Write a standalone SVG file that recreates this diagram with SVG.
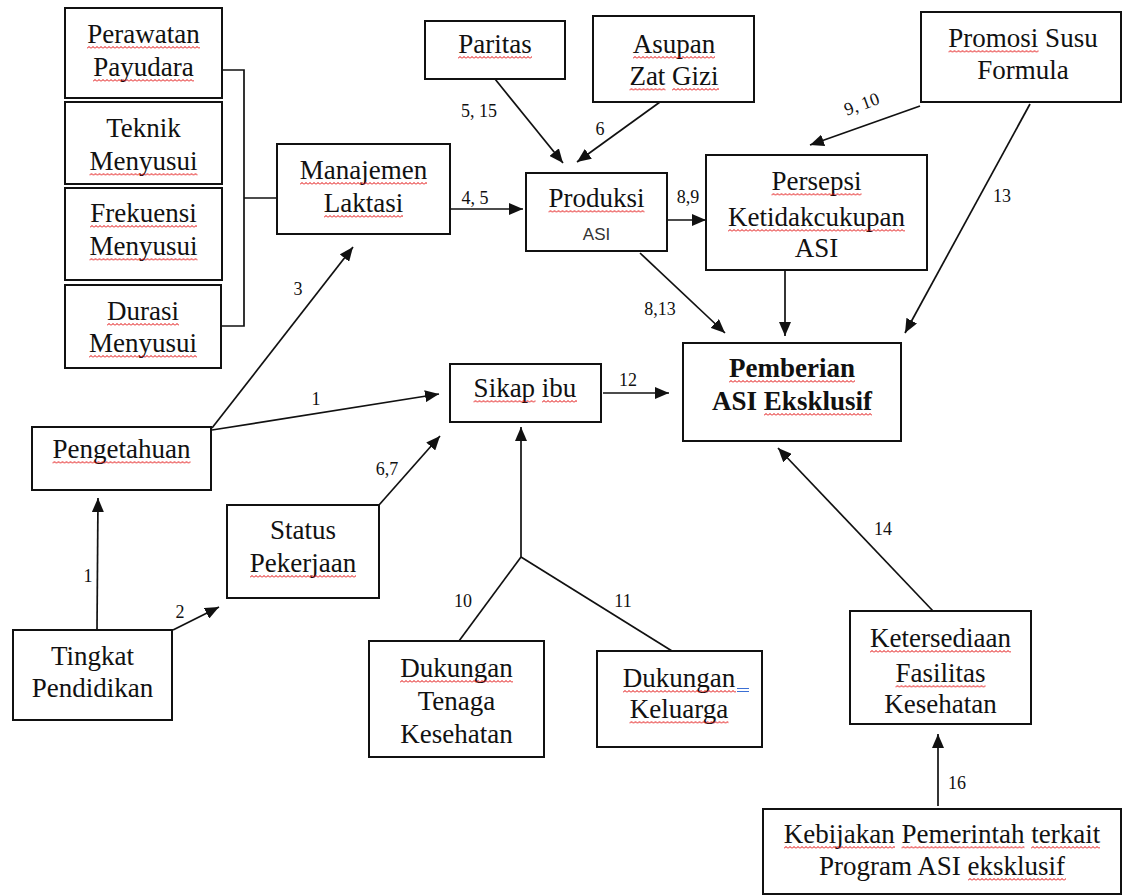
<svg xmlns="http://www.w3.org/2000/svg" width="1122" height="896" viewBox="0 0 1122 896">
<defs>
<style>
.b{fill:#fff;stroke:#111;stroke-width:2}
.t{font-family:"Liberation Serif","Times New Roman",serif;font-size:27px;fill:#111;text-anchor:middle}
.bold{font-weight:bold}
.a{font-family:"Liberation Sans",Arial,sans-serif;font-size:17px;fill:#333;text-anchor:middle}
.n{font-family:"Liberation Serif","Times New Roman",serif;font-size:18px;fill:#111;text-anchor:middle}
.l{fill:none;stroke:#111;stroke-width:1.7}
.ar{marker-end:url(#ah)}
.w{fill:url(#wv)}
</style>
<pattern id="wv" width="4" height="3" patternUnits="userSpaceOnUse"><path d="M0,2.5 L2,0.5 L4,2.5" fill="none" stroke="#e00000" stroke-width="1"/></pattern>
<marker id="ah" markerUnits="userSpaceOnUse" markerWidth="16" markerHeight="12" refX="14" refY="6" orient="auto"><path d="M0,0 L14,6 L0,12 z" fill="#111"/></marker>
</defs>
<rect x="0" y="0" width="1122" height="896" fill="#fff"/>

<g id="connectors">
<polyline class="l" points="222,70 244,70 244,326 221,326"/>
<line class="l" x1="244" y1="198" x2="277" y2="198"/>
<line class="l ar" x1="450" y1="209" x2="523" y2="209"/>
<line class="l ar" x1="495" y1="79" x2="563" y2="163"/>
<line class="l ar" x1="660" y1="102" x2="577" y2="162"/>
<line class="l ar" x1="667" y1="220" x2="706" y2="220"/>
<line class="l ar" x1="640" y1="253" x2="725" y2="333"/>
<line class="l ar" x1="920" y1="106" x2="810" y2="145"/>
<line class="l ar" x1="1030" y1="104" x2="905" y2="333"/>
<line class="l ar" x1="785" y1="270" x2="785" y2="336"/>
<line class="l ar" x1="212" y1="428" x2="353" y2="247"/>
<line class="l ar" x1="212" y1="430" x2="439" y2="394"/>
<line class="l ar" x1="603" y1="393" x2="669" y2="393"/>
<line class="l ar" x1="379" y1="505" x2="440" y2="436"/>
<line class="l ar" x1="97" y1="630" x2="98" y2="498"/>
<line class="l ar" x1="173" y1="630" x2="219" y2="607"/>
<line class="l ar" x1="521" y1="557" x2="521" y2="427"/>
<line class="l" x1="521" y1="557" x2="459" y2="641"/>
<line class="l" x1="521" y1="557" x2="672" y2="651"/>
<line class="l ar" x1="933" y1="611" x2="778" y2="448"/>
<line class="l ar" x1="938" y1="806" x2="938" y2="734"/>
<text class="n" x="479" y="117">5, 15</text>
<text class="n" x="600" y="135">6</text>
<text class="n" x="475" y="204">4, 5</text>
<text class="n" x="688" y="203">8,9</text>
<text class="n" x="660" y="315">8,13</text>
<text class="n" x="862" y="110" transform="rotate(-20 862 105)">9, 10</text>
<text class="n" x="1002" y="202">13</text>
<text class="n" x="298" y="295">3</text>
<text class="n" x="316" y="405">1</text>
<text class="n" x="387" y="475">6,7</text>
<text class="n" x="628" y="386">12</text>
<text class="n" x="88" y="582">1</text>
<text class="n" x="180" y="618">2</text>
<text class="n" x="463" y="607">10</text>
<text class="n" x="623" y="607">11</text>
<text class="n" x="883" y="535">14</text>
<text class="n" x="957" y="789">16</text>
</g>

<g id="perawatan"><rect class="b" x="65" y="8" width="157" height="90"/>
<text class="t" x="143.5" y="43">Perawatan</text>
<text class="t" x="143.5" y="76">Payudara</text>
<rect class="w" transform="translate(87,46)" width="113" height="3"/>
<rect class="w" transform="translate(93,79)" width="101" height="3"/></g>

<g id="teknik"><rect class="b" x="65" y="102" width="157" height="82"/>
<text class="t" x="143.5" y="137">Teknik</text>
<text class="t" x="143.5" y="170">Menyusui</text>
<rect class="w" transform="translate(89.5,173)" width="108" height="3"/></g>

<g id="frekuensi"><rect class="b" x="65" y="188" width="157" height="92"/>
<text class="t" x="143.5" y="222">Frekuensi</text>
<text class="t" x="143.5" y="255">Menyusui</text>
<rect class="w" transform="translate(90,225)" width="107" height="3"/>
<rect class="w" transform="translate(89.5,258)" width="108" height="3"/></g>

<g id="durasi"><rect class="b" x="65" y="285" width="156" height="83"/>
<text class="t" x="143" y="320">Durasi</text>
<text class="t" x="143" y="352">Menyusui</text>
<rect class="w" transform="translate(107,323)" width="72" height="3"/>
<rect class="w" transform="translate(89,355)" width="108" height="3"/></g>

<g id="manajemen"><rect class="b" x="277" y="144" width="173" height="90"/>
<text class="t" x="363.5" y="179">Manajemen</text>
<text class="t" x="363.5" y="212">Laktasi</text>
<rect class="w" transform="translate(300,182)" width="127" height="3"/>
<rect class="w" transform="translate(324,215)" width="79" height="3"/></g>

<g id="paritas"><rect class="b" x="425" y="21" width="140" height="58"/>
<text class="t" x="495" y="53">Paritas</text>
<rect class="w" transform="translate(458,56)" width="74" height="3"/></g>

<g id="asupan"><rect class="b" x="593" y="16" width="161" height="86"/>
<text class="t" x="674" y="53">Asupan</text>
<text class="t" x="674" y="85">Zat Gizi</text>
<rect class="w" transform="translate(633,56)" width="82" height="3"/>
<rect class="w" transform="translate(629.5,88)" width="36" height="3"/>
<rect class="w" transform="translate(672,88)" width="47" height="3"/></g>

<g id="produksi"><rect class="b" x="526" y="173" width="141" height="78"/>
<text class="t" x="596.5" y="207">Produksi</text>
<text class="a" x="596.5" y="240">ASI</text>
<rect class="w" transform="translate(548.5,210)" width="96" height="3"/></g>

<g id="persepsi"><rect class="b" x="706" y="155" width="221" height="115"/>
<text class="t" x="816.5" y="190">Persepsi</text>
<text class="t" x="816.5" y="226">Ketidakcukupan</text>
<text class="t" x="816.5" y="257">ASI</text>
<rect class="w" transform="translate(771.5,193)" width="90" height="3"/>
<rect class="w" transform="translate(728,229)" width="177" height="3"/></g>

<g id="promosi"><rect class="b" x="921" y="12" width="200" height="90"/>
<text class="t" x="1023" y="47">Promosi Susu</text>
<text class="t" x="1023" y="79">Formula</text>
<rect class="w" transform="translate(948.5,50)" width="90" height="3"/></g>

<g id="pemberian"><rect class="b" x="683" y="343" width="218" height="98"/>
<text class="t bold" x="792" y="377">Pemberian</text>
<text class="t bold" x="792" y="410">ASI Eksklusif</text>
<rect class="w" transform="translate(729,380)" width="126" height="3"/>
<rect class="w" transform="translate(764,413)" width="108" height="3"/></g>

<g id="pengetahuan"><rect class="b" x="32" y="427" width="179" height="63"/>
<text class="t" x="121.5" y="458">Pengetahuan</text>
<rect class="w" transform="translate(52.5,461)" width="138" height="3"/></g>

<g id="sikap"><rect class="b" x="450" y="364" width="151" height="58"/>
<text class="t" x="525" y="397">Sikap ibu</text>
<rect class="w" transform="translate(473.5,400)" width="62" height="3"/>
<rect class="w" transform="translate(542,400)" width="35" height="3"/></g>

<g id="status"><rect class="b" x="227" y="505" width="152" height="93"/>
<text class="t" x="303" y="539">Status</text>
<text class="t" x="303" y="572">Pekerjaan</text>
<rect class="w" transform="translate(250,575)" width="106" height="3"/></g>

<g id="tingkat"><rect class="b" x="13" y="630" width="159" height="90"/>
<text class="t" x="92.5" y="665">Tingkat</text>
<text class="t" x="92.5" y="697">Pendidikan</text></g>

<g id="dukungan-tenaga"><rect class="b" x="369" y="641" width="175" height="116"/>
<text class="t" x="456.5" y="677">Dukungan</text>
<text class="t" x="456.5" y="710">Tenaga</text>
<text class="t" x="456.5" y="743">Kesehatan</text>
<rect class="w" transform="translate(400,680)" width="113" height="3"/></g>

<g id="dukungan-keluarga"><rect class="b" x="597" y="651" width="165" height="96"/>
<text class="t" x="679" y="687">Dukungan</text>
<text class="t" x="679" y="718">Keluarga</text>
<rect class="w" transform="translate(623,690)" width="113" height="3"/>
<rect class="w" transform="translate(629.5,721)" width="99" height="3"/>
<path d="M737,688.5 H749 M737,691.5 H749" stroke="#3b6fd4" stroke-width="1"/></g>

<g id="ketersediaan"><rect class="b" x="850" y="611" width="181" height="113"/>
<text class="t" x="940.5" y="647">Ketersediaan</text>
<text class="t" x="940.5" y="682">Fasilitas</text>
<text class="t" x="940.5" y="713">Kesehatan</text>
<rect class="w" transform="translate(870,650)" width="141" height="3"/>
<rect class="w" transform="translate(895.5,685)" width="90" height="3"/></g>

<g id="kebijakan"><rect class="b" x="763" y="809" width="358" height="85"/>
<text class="t" x="942" y="843">Kebijakan Pemerintah terkait</text>
<text class="t" x="942" y="875">Program ASI eksklusif</text>
<rect class="w" transform="translate(784,846)" width="111" height="3"/>
<rect class="w" transform="translate(901.5,846)" width="123" height="3"/>
<rect class="w" transform="translate(1031,846)" width="69" height="3"/>
<rect class="w" transform="translate(968,878)" width="98" height="3"/></g>
</svg>
